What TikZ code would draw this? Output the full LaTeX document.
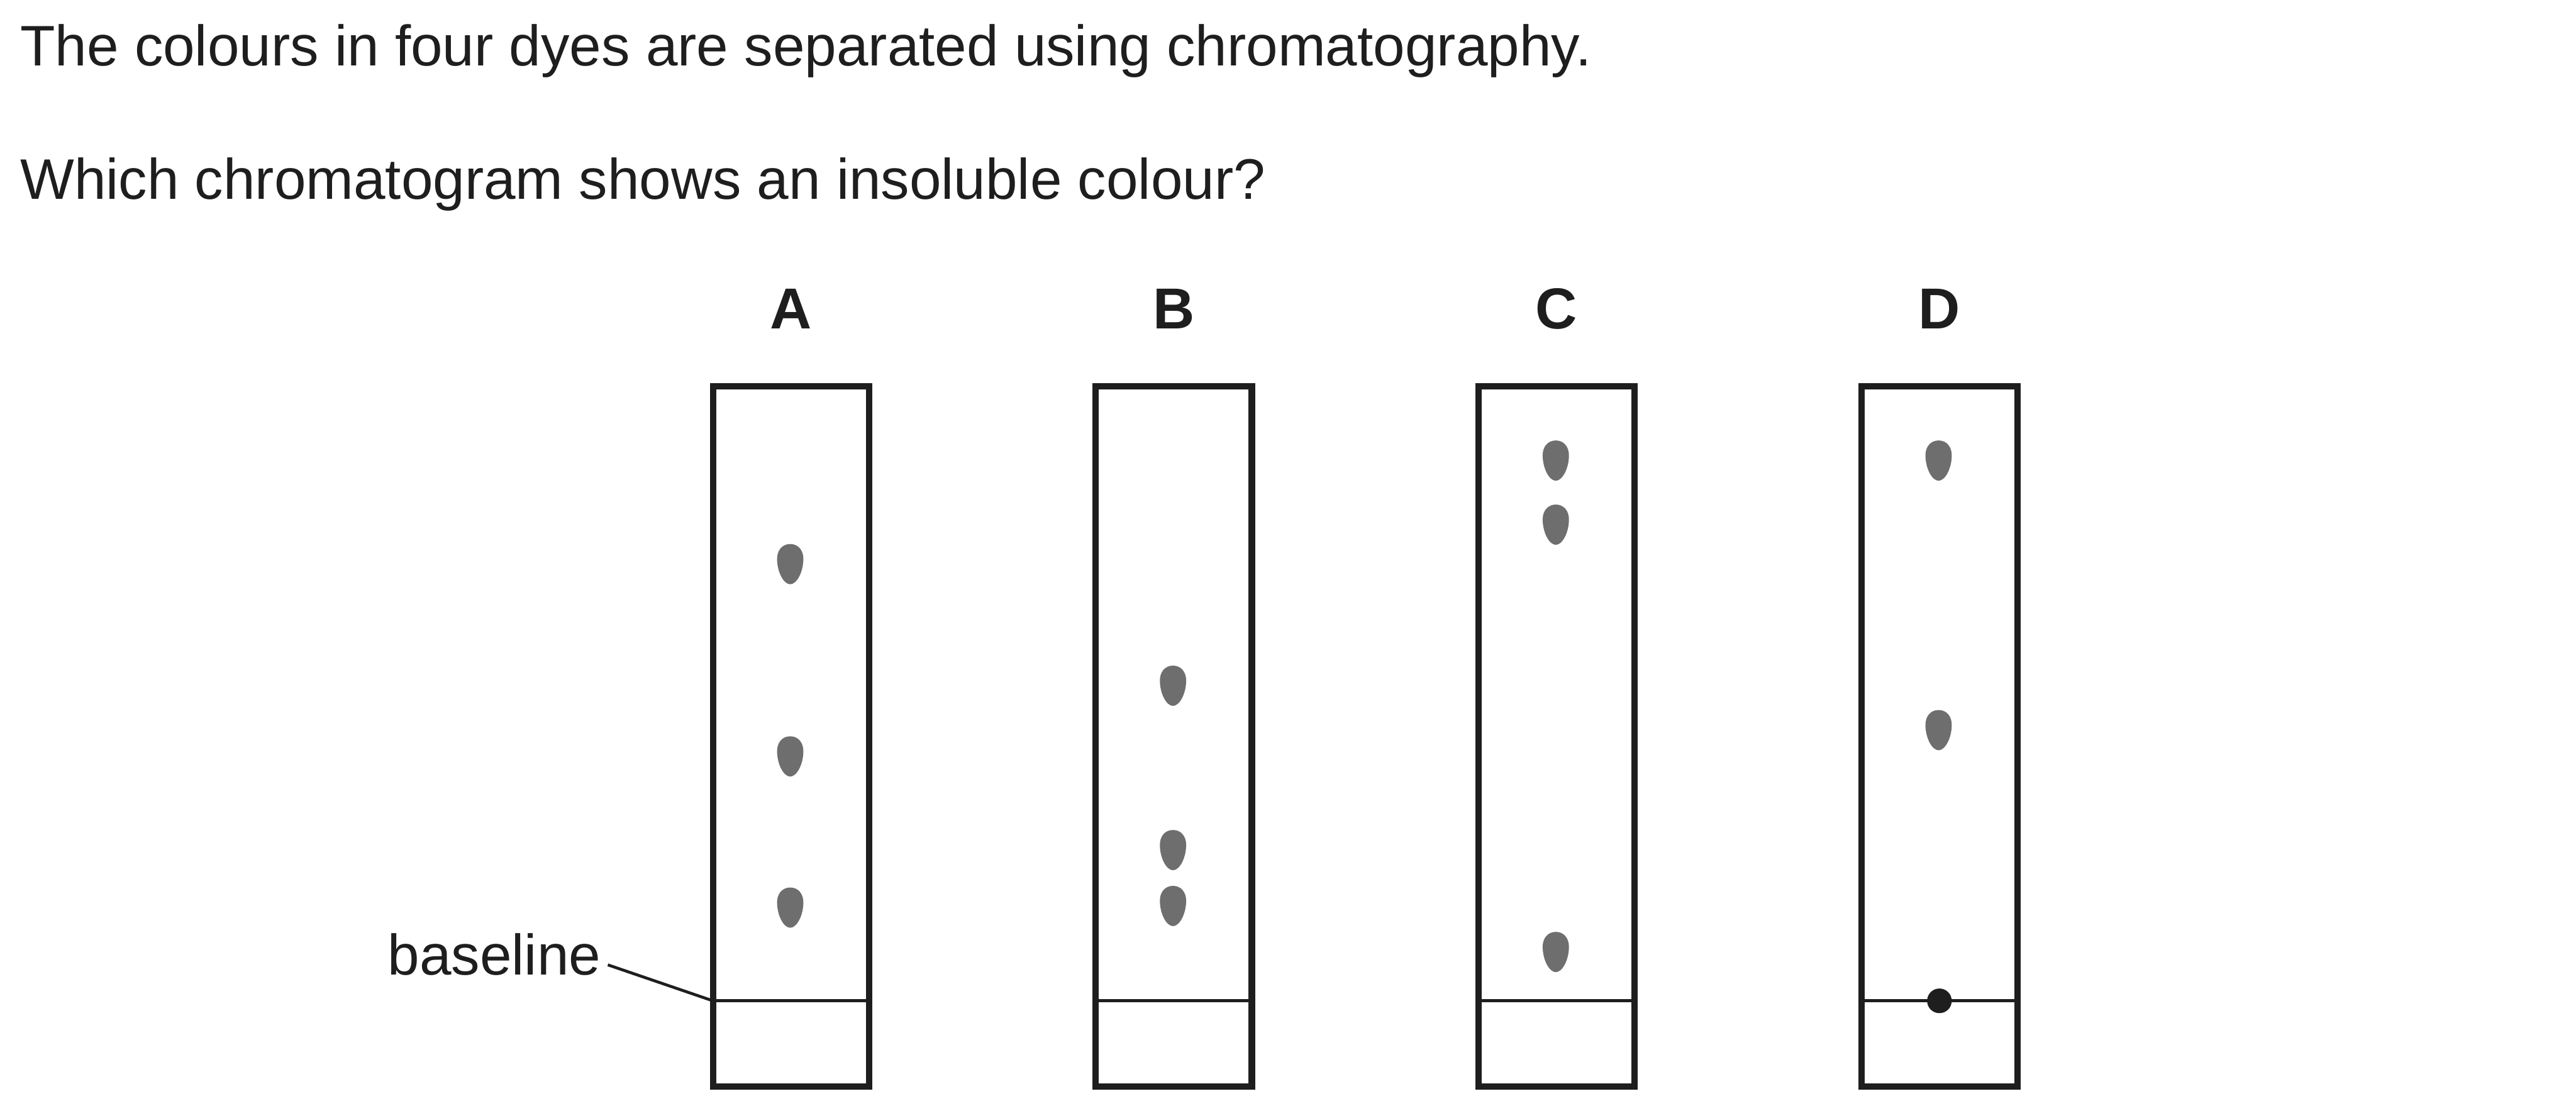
\documentclass[tikz,border=0pt]{standalone}
\usepackage{fontspec}
\setmainfont{Liberation Sans}
\usetikzlibrary{positioning, calc}
\definecolor{inkblack}{HTML}{1E1E1E}
\definecolor{spotgrey}{HTML}{6E6E6E}

\begin{document}
\begin{tikzpicture}[
    x=0.02cm, y=-0.02cm,
    every node/.style={font=\fontsize{19.8}{24}\selectfont, text=inkblack, inner sep=0pt},
    question/.style={anchor=base west},
    letter/.style={font=\fontsize{20}{24}\selectfont\bfseries, anchor=base},
    strip/.style={rectangle, draw=inkblack, line width=2.2pt, outer sep=0pt, minimum width=1.9cm, minimum height=8.52cm},
    startline/.style={draw=inkblack, line width=1.1pt},
    leader/.style={draw=inkblack, line width=1pt},
    spot/.pic={\fill[spotgrey] (0,-12) .. controls (5,-12) and (8,-8) .. (8,-3) .. controls (8,5) and (4,12.5) .. (0,12.5) .. controls (-4,12.5) and (-8,5) .. (-8,-3) .. controls (-8,-8) and (-5,-12) .. (0,-12) -- cycle;}
]
\useasboundingbox (0,0) rectangle (1568,680);

% question text
\node[question] (line1) at (12,40) {The colours in four dyes are separated using chromatography.};
\node[question] (line2) at (12,121) {Which chromatogram shows an insoluble colour?};

% strips
\node[strip] (stripA) at (481.5,448) {};
\node[strip] (stripB) at (714.5,448) {};
\node[strip] (stripC) at (947.5,448) {};
\node[strip] (stripD) at (1180.5,448) {};

\node[letter] (labA) at (481.5,200) {A};
\node[letter] (labB) at (714.5,200) {B};
\node[letter] (labC) at (947.5,200) {C};
\node[letter] (labD) at (1180.5,200) {D};

% baselines
\foreach \s in {A,B,C,D} {
  \coordinate (base\s) at ($(strip\s.south west)+(0,-52)$);
  \draw[startline] (base\s) -- ($(strip\s.south east)+(0,-52)$);
}

\node[anchor=base east] (baselabel) at (366,593) {baseline};
\draw[leader] ([xshift=0.08cm, yshift=-0.13cm]baselabel.east) -- (baseA);

% spots
\pic at (481,343) {spot};
\pic at (481,460) {spot};
\pic at (481,552) {spot};
\pic at (714,417) {spot};
\pic at (714,517) {spot};
\pic at (714,551) {spot};
\pic at (947,280) {spot};
\pic at (947,319) {spot};
\pic at (947,579) {spot};
\pic at (1180,280) {spot};
\pic at (1180,444) {spot};
\fill[inkblack] ($(stripD.south)+(0,-52)$) circle (0.15cm);
\end{tikzpicture}
\end{document}
